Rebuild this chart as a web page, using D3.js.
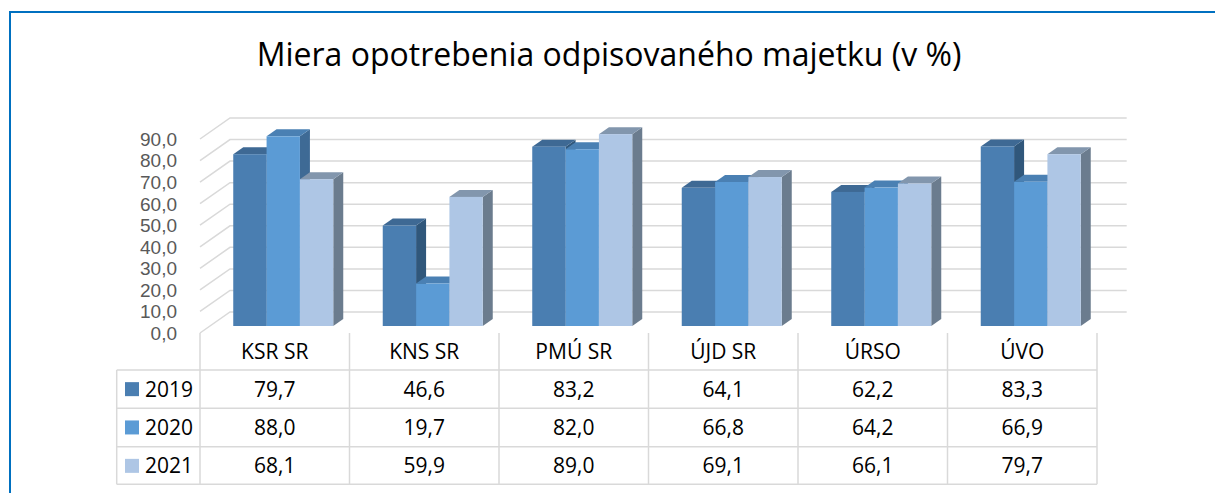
<!DOCTYPE html>
<html>
<head>
<meta charset="utf-8">
<script src="https://cdn.jsdelivr.net/npm/d3@7"></script>
<style>
  html, body { margin: 0; padding: 0; background: #fff; overflow: hidden; }
  svg { display: block; }
</style>
</head>
<body>
<div id="chart"></div>
<script>
const categories = ['KSR SR', 'KNS SR', 'PMÚ SR', 'ÚJD SR', 'ÚRSO', 'ÚVO'];
const years = ['2019', '2020', '2021'];
const values2019 = [79.7, 46.6, 83.2, 64.1, 62.2, 83.3];
const values2020 = [88.0, 19.7, 82.0, 66.8, 64.2, 66.9];
const values2021 = [68.1, 59.9, 89.0, 69.1, 66.1, 79.7];
const yTicks = [0, 10, 20, 30, 40, 50, 60, 70, 80, 90];
const TITLE = 'Miera opotrebenia odpisovaného majetku (v %)';

const series = [values2019, values2020, values2021];

const WIDTH = 1215;
const HEIGHT = 493;
const FONT = '"Open Sans", "Noto Sans", sans-serif';
const AXIS_FONT = '"Liberation Sans", Arial, sans-serif';

// colours per year: front, top, side
const FACE = {
  '2019': { front: '#4a7eb1', top: '#3e6994', side: '#30577b' },
  '2020': { front: '#5b9bd5', top: '#4a80b3', side: '#3e6a95' },
  '2021': { front: '#aec6e5', top: '#8296ad', side: '#6b7c8e' }
};
const GRID_COLOR = '#d9d9d9';

// oblique depth of the back wall
const DEPTH_X = 30;
const DEPTH_Y = 21;
const BAR_Z0 = 1 / 3; // bars sit in the middle third of the depth
const BAR_Z1 = 2 / 3;

const svg = d3.select('#chart')
  .append('svg')
  .attr('width', WIDTH)
  .attr('height', HEIGHT);

// outer chart border (continues past the window on the right and bottom)
svg.append('rect')
  .attr('x', 10)
  .attr('y', 12)
  .attr('width', 1300)
  .attr('height', 600)
  .attr('fill', 'none')
  .attr('stroke', '#0070c0')
  .attr('stroke-width', 2);

// title, fitted to the reference width
const title = svg.append('text')
  .attr('x', 609)
  .attr('y', 66)
  .attr('text-anchor', 'middle')
  .attr('font-family', FONT)
  .attr('font-size', 30)
  .attr('fill', '#000')
  .text(TITLE);
const tw = title.node().getComputedTextLength();
title.attr('font-size', 30 * 705 / tw);

const y = d3.scaleLinear().domain([0, 90]).range([333, 139]);
const x0 = d3.scaleBand().domain(categories).range([200, 1097]);
const x1 = d3.scaleBand().domain(years).range([23.25, 123.25]);

const plotLeft = 200;
const plotRight = 1097 + DEPTH_X;

// back wall gridlines + left diagonals
const grid = svg.append('g')
  .attr('stroke', GRID_COLOR)
  .attr('stroke-width', 1.5)
  .attr('fill', 'none');
grid.selectAll('path')
  .data(yTicks)
  .enter()
  .append('path')
  .attr('d', d => {
    const yf = y(d);
    return `M${plotLeft},${yf}L${plotLeft + DEPTH_X},${yf - DEPTH_Y}L${plotRight - 0.3},${yf - DEPTH_Y}`;
  });

// y axis labels
const fmt = d => d3.format('.1f')(d).replace('.', ',');
svg.append('g')
  .selectAll('text')
  .data(yTicks)
  .enter()
  .append('text')
  .attr('x', 177)
  .attr('y', d => y(d))
  .attr('dy', '0.36em')
  .attr('text-anchor', 'end')
  .attr('font-family', AXIS_FONT)
  .attr('font-size', 19)
  .attr('fill', '#595959')
  .text(fmt);

// bars
const bars = [];
categories.forEach((c, ci) => {
  years.forEach((yr, si) => {
    bars.push({ cat: c, year: yr, value: series[si][ci] });
  });
});

const barG = svg.append('g');
const zx0 = BAR_Z0 * DEPTH_X, zy0 = BAR_Z0 * DEPTH_Y;
const dzx = (BAR_Z1 - BAR_Z0) * DEPTH_X, dzy = (BAR_Z1 - BAR_Z0) * DEPTH_Y;

bars.forEach(b => {
  const xl = x0(b.cat) + x1(b.year) + zx0;
  const xr = xl + x1.bandwidth();
  const yb = y(0) - zy0;
  const yt = y(b.value) - zy0;
  const col = FACE[b.year];
  const g = barG.append('g');
  // side face
  g.append('path')
    .attr('d', `M${xr},${yt}L${xr + dzx},${yt - dzy}L${xr + dzx},${yb - dzy}L${xr},${yb}Z`)
    .attr('fill', col.side);
  // top face
  g.append('path')
    .attr('d', `M${xl},${yt}L${xr},${yt}L${xr + dzx},${yt - dzy}L${xl + dzx},${yt - dzy}Z`)
    .attr('fill', col.top);
  // front face
  g.append('rect')
    .attr('x', xl)
    .attr('y', yt)
    .attr('width', xr - xl)
    .attr('height', yb - yt)
    .attr('fill', col.front);
});

// data table
const headTop = 333;
const rowTops = [370, 408.3, 446.7];
const rowH = 38.3;
const tableBottom = 484.3;
const legendLeft = 116.7;

const table = svg.append('g')
  .attr('stroke', GRID_COLOR)
  .attr('stroke-width', 1.5)
  .attr('fill', 'none');

const colEdges = categories.map(c => x0(c)).concat([x0.range()[1]]);
table.selectAll('line.v')
  .data(colEdges)
  .enter()
  .append('line')
  .attr('x1', d => d)
  .attr('x2', d => d)
  .attr('y1', headTop)
  .attr('y2', tableBottom);
table.append('line')
  .attr('x1', legendLeft).attr('x2', legendLeft)
  .attr('y1', rowTops[0]).attr('y2', tableBottom);
table.selectAll('line.h')
  .data(rowTops.concat([tableBottom]))
  .enter()
  .append('line')
  .attr('x1', legendLeft)
  .attr('x2', x0.range()[1])
  .attr('y1', d => d)
  .attr('y2', d => d);

// category headers
svg.append('g')
  .selectAll('text')
  .data(categories)
  .enter()
  .append('text')
  .attr('x', d => x0(d) + x0.bandwidth() / 2)
  .attr('y', (headTop + rowTops[0]) / 2)
  .attr('dy', '0.36em')
  .attr('text-anchor', 'middle')
  .attr('font-family', FONT)
  .attr('font-size', 21)
  .attr('fill', '#000')
  .text(d => d);

// legend keys and year labels
const legend = svg.append('g');
years.forEach((yr, i) => {
  const cy = rowTops[i] + rowH / 2;
  legend.append('rect')
    .attr('x', 125)
    .attr('y', cy - 7)
    .attr('width', 14)
    .attr('height', 14)
    .attr('fill', FACE[yr].front);
  legend.append('text')
    .attr('x', 145)
    .attr('y', cy)
    .attr('dy', '0.36em')
    .attr('font-family', FONT)
    .attr('font-size', 21)
    .attr('fill', '#000')
    .text(yr);
});

// values
const cells = svg.append('g');
series.forEach((vals, si) => {
  const cy = rowTops[si] + rowH / 2;
  cells.selectAll(null)
    .data(vals)
    .enter()
    .append('text')
    .attr('x', (d, ci) => x0(categories[ci]) + x0.bandwidth() / 2)
    .attr('y', cy)
    .attr('dy', '0.36em')
    .attr('text-anchor', 'middle')
    .attr('font-family', FONT)
    .attr('font-size', 21)
    .attr('fill', '#000')
    .text(fmt);
});
</script>
</body>
</html>
